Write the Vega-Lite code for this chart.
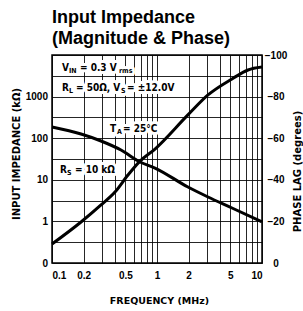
{
  "$schema": "https://vega.github.io/schema/vega-lite/v6.json",
  "width": 210,
  "height": 208,
  "autosize": {"type": "none"},
  "padding": {"left": 52, "top": 55, "right": 41, "bottom": 48},
  "title": {
    "text": ["Input Impedance", "(Magnitude & Phase)"],
    "anchor": "start",
    "frame": "group",
    "font": "Liberation Sans",
    "fontSize": 18,
    "fontWeight": "bold",
    "lineHeight": 21,
    "offset": 2,
    "color": "black"
  },
  "datasets": {
    "mag": [
      {"f": 0.1, "z": 186},
      {"f": 0.189, "z": 126},
      {"f": 0.293, "z": 85.7},
      {"f": 0.454, "z": 52},
      {"f": 0.689, "z": 26.8},
      {"f": 0.957, "z": 19.2},
      {"f": 1.97, "z": 6.7},
      {"f": 3.06, "z": 3.86},
      {"f": 5.18, "z": 2.1},
      {"f": 10, "z": 0.97}
    ],
    "phase": [
      {"f": 0.1, "phase": -9.1},
      {"f": 0.189, "phase": -19.7},
      {"f": 0.293, "phase": -27.9},
      {"f": 0.398, "phase": -34.1},
      {"f": 0.529, "phase": -42.3},
      {"f": 0.689, "phase": -49},
      {"f": 0.957, "phase": -54.8},
      {"f": 1.97, "phase": -71.2},
      {"f": 3.06, "phase": -80.8},
      {"f": 5.18, "phase": -88.5},
      {"f": 7.36, "phase": -92.8},
      {"f": 10, "phase": -94.2}
    ],
    "notes": [
      {"f": 0.1245, "z": 4124, "label": "V", "kind": "main"},
      {"f": 0.1452, "z": 3692, "label": "IN", "kind": "sub"},
      {"f": 0.1848, "z": 4124, "label": "= 0.3 V", "kind": "main"},
      {"f": 0.4346, "z": 3692, "label": "rms", "kind": "sub"},
      {"f": 0.1245, "z": 1363, "label": "R", "kind": "main"},
      {"f": 0.1452, "z": 1220, "label": "L", "kind": "sub"},
      {"f": 0.1692, "z": 1363, "label": "= 50Ω, V", "kind": "main"},
      {"f": 0.454, "z": 1220, "label": "S", "kind": "sub"},
      {"f": 0.518, "z": 1363, "label": "= ±12.0V", "kind": "main"},
      {"f": 0.3568, "z": 141, "label": "T", "kind": "main"},
      {"f": 0.4159, "z": 126, "label": "A", "kind": "sub"},
      {"f": 0.4745, "z": 141, "label": "= 25°C", "kind": "main"},
      {"f": 0.1192, "z": 14.56, "label": "R", "kind": "main"},
      {"f": 0.139, "z": 13.0, "label": "S", "kind": "sub"},
      {"f": 0.1656, "z": 14.56, "label": "= 10 kΩ", "kind": "main"}
    ]
  },
  "layer": [
    {
      "layer": [
        {
          "data": {"name": "notes"},
          "mark": {"type": "text", "align": "left", "baseline": "alphabetic", "font": "DejaVu Sans Condensed", "fontWeight": "bold", "fill": "white", "stroke": "white", "strokeWidth": 6, "strokeJoin": "round"},
          "encoding": {
            "x": {"field": "f", "type": "quantitative", "scale": {"type": "log", "domain": [0.1, 10], "nice": false}},
            "y": {"field": "z", "type": "quantitative", "scale": {"type": "log", "domain": [0.1, 10000], "nice": false}},
            "text": {"field": "label"},
            "size": {"field": "kind", "type": "nominal", "scale": {"domain": ["main", "sub"], "range": [10, 7]}, "legend": null}
          }
        },
        {
          "data": {"name": "notes"},
          "mark": {"type": "text", "align": "left", "baseline": "alphabetic", "font": "DejaVu Sans Condensed", "fontWeight": "bold", "fill": "black"},
          "encoding": {
            "x": {"field": "f", "type": "quantitative", "scale": {"type": "log", "domain": [0.1, 10], "nice": false}},
            "y": {"field": "z", "type": "quantitative", "scale": {"type": "log", "domain": [0.1, 10000], "nice": false}},
            "text": {"field": "label"},
            "size": {"field": "kind", "type": "nominal", "scale": {"domain": ["main", "sub"], "range": [10, 7]}, "legend": null}
          }
        },
        {
          "data": {"name": "mag"},
          "mark": {"type": "line", "color": "black", "strokeWidth": 3, "interpolate": "monotone"},
          "encoding": {
            "x": {
              "field": "f", "type": "quantitative",
              "scale": {"type": "log", "domain": [0.1, 10], "nice": false},
              "axis": {
                "values": [0.1, 0.2, 0.3, 0.4, 0.5, 0.6, 0.7, 0.8, 0.9, 1, 2, 3, 4, 5, 6, 7, 8, 9, 10],
                "labelExpr": "indexof([0.1, 0.2, 0.5, 1, 2, 5, 10], datum.value) >= 0 ? format(datum.value, '~g') : ''",
                "labelPadding": 7,
                "title": "FREQUENCY (MHz)",
                "titleFontSize": 9.5,
                "titleX": 107,
                "titleY": 37.5,
                "titleBaseline": "middle",
                "titleAnchor": "middle"
              }
            },
            "y": {
              "field": "z", "type": "quantitative",
              "scale": {"type": "log", "domain": [0.1, 10000], "nice": false},
              "axis": {
                "values": [0.1, 0.316228, 1, 3.16228, 10, 31.6228, 100, 316.228, 1000, 3162.28, 10000],
                "labelExpr": "datum.value == 0.1 ? '0' : (indexof([1, 10, 100, 1000], datum.value) >= 0 ? format(datum.value, 'd') : '')",
                "labelPadding": 4.5,
                "title": "INPUT IMPEDANCE (kΩ)",
                "titleX": -36,
                "titleY": 98.5,
                "titleBaseline": "middle",
                "titleAngle": 270
              }
            }
          }
        }
      ]
    },
    {
      "data": {"name": "phase"},
      "mark": {"type": "line", "color": "black", "strokeWidth": 3, "interpolate": "monotone"},
      "encoding": {
        "x": {"field": "f", "type": "quantitative", "scale": {"type": "log", "domain": [0.1, 10], "nice": false}},
        "y": {
          "field": "phase", "type": "quantitative",
          "scale": {"domain": [0, -100], "nice": false},
          "axis": {
            "orient": "right",
            "values": [0, -20, -40, -60, -80, -100],
            "grid": false,
            "labelAlign": "center",
            "labelPadding": 13.5,
            "title": "PHASE LAG (degrees)",
            "titleX": 35,
            "titleY": 116,
            "titleBaseline": "middle",
            "titleAngle": 270
          }
        }
      }
    }
  ],
  "resolve": {"scale": {"y": "independent"}},
  "config": {
    "view": {"stroke": "black", "strokeWidth": 1.5},
    "axis": {
      "labelFont": "Liberation Sans",
      "labelFontWeight": "bold",
      "labelFontSize": 10,
      "labelColor": "black",
      "titleFont": "DejaVu Sans",
      "titleFontWeight": "bold",
      "titleFontSize": 10,
      "titleColor": "black",
      "gridColor": "black",
      "gridOpacity": 0.85,
      "gridWidth": 1,
      "ticks": false,
      "tickSize": 0,
      "domain": false,
      "labelOverlap": false
    }
  }
}
